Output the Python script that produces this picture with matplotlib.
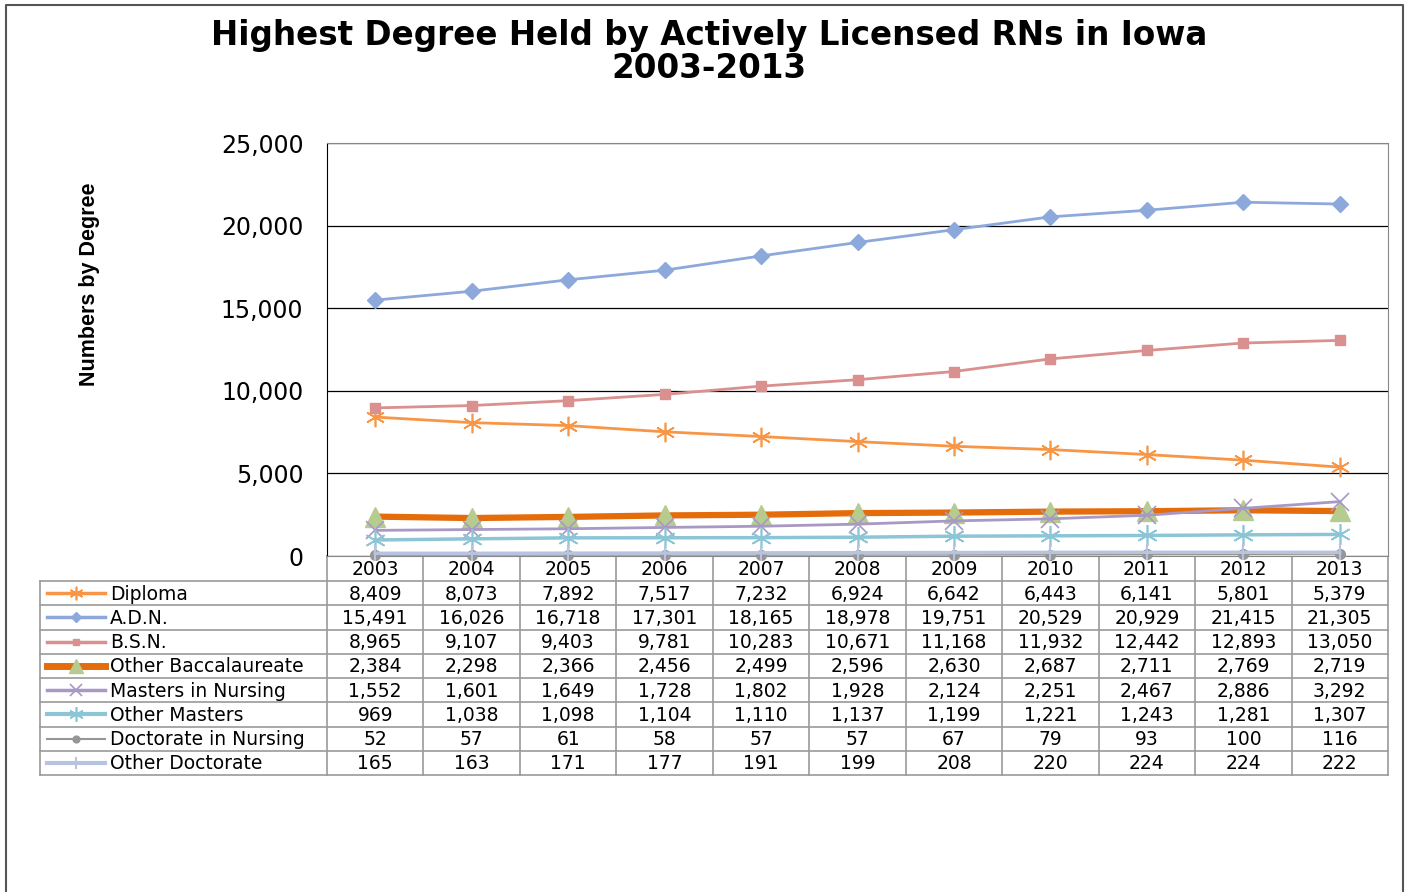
import matplotlib.pyplot as plt
from matplotlib.lines import Line2D

years = ['2003', '2004', '2005', '2006', '2007', '2008', '2009', '2010', '2011', '2012', '2013']

diploma = [8409, 8073, 7892, 7517, 7232, 6924, 6642, 6443, 6141, 5801, 5379]
adn = [15491, 16026, 16718, 17301, 18165, 18978, 19751, 20529, 20929, 21415, 21305]
bsn = [8965, 9107, 9403, 9781, 10283, 10671, 11168, 11932, 12442, 12893, 13050]
other_bacc = [2384, 2298, 2366, 2456, 2499, 2596, 2630, 2687, 2711, 2769, 2719]
masters_nursing = [1552, 1601, 1649, 1728, 1802, 1928, 2124, 2251, 2467, 2886, 3292]
other_masters = [969, 1038, 1098, 1104, 1110, 1137, 1199, 1221, 1243, 1281, 1307]
doct_nursing = [52, 57, 61, 58, 57, 57, 67, 79, 93, 100, 116]
other_doct = [165, 163, 171, 177, 191, 199, 208, 220, 224, 224, 222]

names = ['Diploma', 'A.D.N.', 'B.S.N.', 'Other Baccalaureate', 'Masters in Nursing',
         'Other Masters', 'Doctorate in Nursing', 'Other Doctorate']
series = [diploma, adn, bsn, other_bacc, masters_nursing, other_masters, doct_nursing, other_doct]

ast = (6, 2, 0)
styles = [
    dict(color='#F79646', lw=2, marker=ast, ms=14, mfc='#F79646', mec='#F79646', mew=1.2),
    dict(color='#8DA9DB', lw=2, marker='D', ms=8, mfc='#8DA9DB', mec='#8DA9DB', mew=1),
    dict(color='#D9908E', lw=2, marker='s', ms=7, mfc='#D9908E', mec='#D9908E', mew=1),
    dict(color='#E46C0A', lw=4.5, marker='^', ms=14, mfc='#B5CB8F', mec='#B5CB8F', mew=1),
    dict(color='#A898C5', lw=2, marker='x', ms=13, mfc='#A898C5', mec='#A898C5', mew=1.2),
    dict(color='#8CC5D6', lw=2.5, marker=ast, ms=15, mfc='#8CC5D6', mec='#8CC5D6', mew=1.2),
    dict(color='#969696', lw=1, marker='o', ms=7, mfc='#969696', mec='#969696', mew=1),
    dict(color='#B7C3DF', lw=2.5, marker='|', ms=12, mfc='#B7C3DF', mec='#B7C3DF', mew=1.5),
]

W, H = 1408, 892
fig = plt.figure(figsize=(W / 100, H / 100), dpi=100)
plt.rcParams['font.family'] = ['DejaVu Sans']

left, right, top, bottom = 327, 1388, 143, 556
ax = fig.add_axes([left / W, 1 - bottom / H, (right - left) / W, (bottom - top) / H])
x = list(range(len(years)))
draw_order = [6, 7, 5, 3, 4, 0, 2, 1]
for i in draw_order:
    ax.plot(x, series[i], zorder=3 + i, clip_on=False, **styles[i])

ax.set_xlim(-0.5, len(years) - 0.5)
ax.set_ylim(0, 25000)
ax.set_yticks([0, 5000, 10000, 15000, 20000, 25000])
ax.set_yticklabels(['0', '5,000', '10,000', '15,000', '20,000', '25,000'], fontsize=17)
ax.tick_params(axis='y', length=0, pad=17)
ax.set_xticks([])
ax.yaxis.grid(True, color='black', lw=0.9)
ax.set_axisbelow(True)
for s in ['top', 'right', 'bottom']:
    ax.spines[s].set_color('#888888')
ax.spines['left'].set_color('black')

fig.text(90 / W, 1 - 284 / H, 'Numbers by Degree', rotation=90, ha='center', va='center',
         fontsize=15.5, fontweight='bold', family=['Liberation Sans Narrow', 'Liberation Sans'])
fig.text(709 / W, 1 - 36 / H, 'Highest Degree Held by Actively Licensed RNs in Iowa',
         ha='center', va='center', fontsize=23.5, fontweight='bold')
fig.text(709 / W, 1 - 68 / H, '2003-2013', ha='center', va='center', fontsize=23.5, fontweight='bold')

# data table below the plot
tb = fig.add_axes([0, 0, 1, 1], zorder=-1)
tb.set_xlim(0, W)
tb.set_ylim(H, 0)
tb.axis('off')
tcol = '#9a9a9a'
tleft = 40
colw = (right - left) / len(years)
hdr_bot = 581
rowh = 24.25
nrows = len(names)
tbot = hdr_bot + rowh * nrows
tb.plot([left, right], [bottom, bottom], color=tcol, lw=1.2)
for r in range(nrows + 1):
    y = hdr_bot + r * rowh
    tb.plot([tleft, right], [y, y], color=tcol, lw=1.2)
tb.plot([tleft, tleft], [hdr_bot, tbot], color=tcol, lw=1.2)
for c in range(len(years) + 1):
    xx = left + c * colw
    tb.plot([xx, xx], [bottom, tbot], color=tcol, lw=1.2)
fs = 13.5
for c, yr in enumerate(years):
    tb.text(left + (c + 0.5) * colw, (bottom + hdr_bot) / 2 + 1, yr, ha='center', va='center', fontsize=fs)
for r, (nm, vals) in enumerate(zip(names, series)):
    yc = hdr_bot + (r + 0.5) * rowh
    st = styles[r]
    tb.add_line(Line2D([47, 105], [yc, yc], color=st['color'], lw=st['lw'] + 0.5))
    tb.add_line(Line2D([76], [yc], marker=st['marker'], ms=st['ms'] * 0.7, mfc=st['mfc'],
                       mec=st['mec'], mew=st['mew'], ls='none'))
    tb.text(110, yc + 1, nm, ha='left', va='center', fontsize=fs)
    for c, v in enumerate(vals):
        tb.text(left + (c + 0.5) * colw, yc + 1, f'{v:,}', ha='center', va='center', fontsize=fs)

# outer chart border
tb.plot([6, 6, 1403, 1403], [H + 5, 5, 5, H + 5], color='#555555', lw=1.5)

fig.savefig('out.png', dpi=100)
